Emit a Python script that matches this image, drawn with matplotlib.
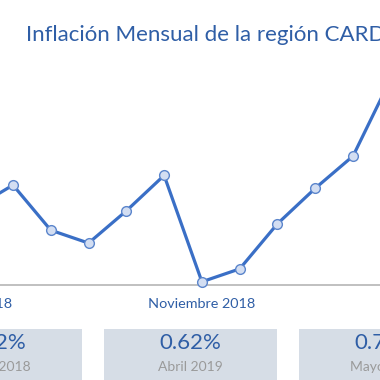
import matplotlib.pyplot as plt
from matplotlib.patches import Rectangle

# monthly inflation, May 2018 .. May 2019
meses = ["Mayo 2018", "Junio 2018", "Julio 2018", "Agosto 2018", "Septiembre 2018",
         "Octubre 2018", "Noviembre 2018", "Diciembre 2018", "Enero 2019",
         "Febrero 2019", "Marzo 2019", "Abril 2019", "Mayo 2019"]
inflacion = [0.22, 0.29, 0.15, 0.11, 0.21, 0.32, -0.01, 0.03, 0.17, 0.28, 0.38, 0.62, 0.72]

etiquetas_x = [0, 6, 12]

tarjetas_valor = ["0.22%", "0.62%", "0.72%"]
tarjetas_mes = ["Mayo 2018", "Abril 2019", "Mayo 2019"]

azul = "#3a6fc6"
azul_texto = "#2f5ea6"

W = H = 380
fig = plt.figure(figsize=(3.8, 3.8), dpi=100)
fig.patch.set_facecolor("white")

# main line axes (pixel-based placement)
top_px, bot_px = 40, 285
ax = fig.add_axes([0, 1 - bot_px / H, 1, (bot_px - top_px) / H])
ax.plot(range(len(inflacion)), inflacion, color=azul, linewidth=2.3,
        marker="o", markersize=7, markerfacecolor="#d3def2",
        markeredgecolor="#5b85cc", markeredgewidth=1, clip_on=False, zorder=3)
for s in ["top", "right", "left"]:
    ax.spines[s].set_visible(False)
ax.spines["bottom"].set_color("#b5b5b5")
ax.spines["bottom"].set_linewidth(1.2)
ax.set_yticks([])
ax.set_xticks([])
ax.patch.set_alpha(0)

step = 37.78
x0 = 1 - 13 / step
ax.set_xlim(x0, x0 + W / step)
ax.set_ylim(-0.02, 0.74)

# x labels drawn by hand so the ones partly outside the view still show
for i in etiquetas_x:
    ax.annotate(meses[i], (i, 0), xycoords=("data", "axes fraction"),
                xytext=(0, -19), textcoords="offset pixels", ha="center", va="center",
                color=azul_texto, fontsize=10.4, family="Lato", annotation_clip=False)

# title
fig.text(26 / W, 1 - 35 / H, "Inflación Mensual de la región CARD-RD",
         color=azul_texto, fontsize=16, family="Lato", va="center", ha="left")

# cards at bottom
card_w, gap = 173, 22
lefts = [104 - card_w - gap, 104, 104 + card_w + gap]
for left, val, mes in zip(lefts, tarjetas_valor, tarjetas_mes):
    fig.patches.append(Rectangle((left / W, 0), card_w / W, 1 - 329 / H,
                                 transform=fig.transFigure, facecolor="#d6dde6",
                                 edgecolor="none"))
    cx = (left + card_w / 2) / W
    fig.text(cx, 1 - 343 / H, val, color=azul_texto, fontsize=16, family="Lato",
             ha="center", va="center")
    fig.text(cx, 1 - 367 / H, mes, color="#9a9a9a", fontsize=10, family="Lato",
             ha="center", va="center")

fig.savefig("out.png", dpi=100)
